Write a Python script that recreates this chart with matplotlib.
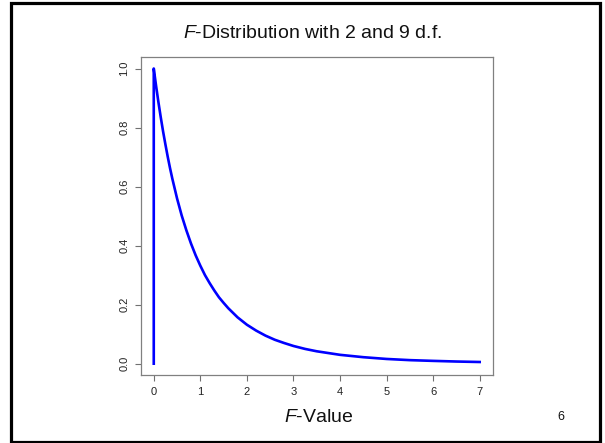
import matplotlib
matplotlib.use('Agg')
import matplotlib.pyplot as plt
from matplotlib.patches import Rectangle

plt.rcParams['font.family'] = 'Liberation Sans'
plt.rcParams['mathtext.fontset'] = 'custom'
plt.rcParams['mathtext.rm'] = 'Liberation Sans'
plt.rcParams['mathtext.it'] = 'Liberation Sans:italic'

# F(2, 9) density (with the drop to 0 at x = 0)
f_value = [0, 0, 0.02, 0.05, 0.1, 0.15, 0.2, 0.25, 0.3, 0.35, 0.4, 0.5, 0.6,
           0.7, 0.8, 0.9, 1.0, 1.1, 1.2, 1.3, 1.4, 1.5, 1.6, 1.8, 2.0, 2.2,
           2.4, 2.6, 2.8, 3.0, 3.25, 3.5, 3.75, 4.0, 4.25, 4.5, 4.75, 5.0,
           5.5, 6.0, 6.5, 7.0]
density = [0, 1.0, 0.976, 0.941, 0.886, 0.835, 0.787, 0.743, 0.701, 0.662,
           0.626, 0.560, 0.502, 0.452, 0.407, 0.367, 0.332, 0.300, 0.273,
           0.248, 0.225, 0.206, 0.188, 0.157, 0.132, 0.112, 0.095, 0.081,
           0.070, 0.060, 0.050, 0.042, 0.036, 0.030, 0.026, 0.022, 0.019,
           0.016, 0.012, 0.0095, 0.0073, 0.0057]
x_ticks = [0, 1, 2, 3, 4, 5, 6, 7]
y_ticks = [0.0, 0.2, 0.4, 0.6, 0.8, 1.0]

fig = plt.figure(figsize=(6.05, 4.43), dpi=100)
ax = fig.add_axes([0.2326, 0.1524, 0.5818, 0.7196])

ax.plot(f_value, density, color='#0000ff', lw=1.9, solid_joinstyle='round')
ax.set_xlim(-0.28, 7.28)
ax.set_ylim(-0.04, 1.04)
ax.set_xticks(x_ticks)
ax.set_yticks(y_ticks)
ax.set_xticklabels([str(t) for t in x_ticks])
ax.set_yticklabels(['%.1f' % t for t in y_ticks], rotation=90, va='center')
ax.tick_params(length=4.3, width=0.8, color='#707070', labelsize=8, pad=4, labelcolor='#222222')
for s in ax.spines.values():
    s.set_color('#808080')
    s.set_linewidth(0.9)

fig.text(312.5 / 605, 1 - 34 / 443, r'$\mathit{F}$-Distribution with 2 and 9 d.f.',
         ha='center', va='center', fontsize=14, color='#111111')
fig.text(319 / 605, 1 - 417 / 443, r'$\mathit{F}$-Value',
         ha='center', va='center', fontsize=14, color='#111111')
fig.text(561 / 605, 1 - 417 / 443, '6', ha='center', va='center', fontsize=9, color='#111111')

# slide frame
fig.patches.append(Rectangle((11.5 / 605, 1.5 / 443), 588 / 605, 438.5 / 443,
                             transform=fig.transFigure, fill=False, lw=2.3, ec='black'))

fig.savefig('out.png', dpi=100)
